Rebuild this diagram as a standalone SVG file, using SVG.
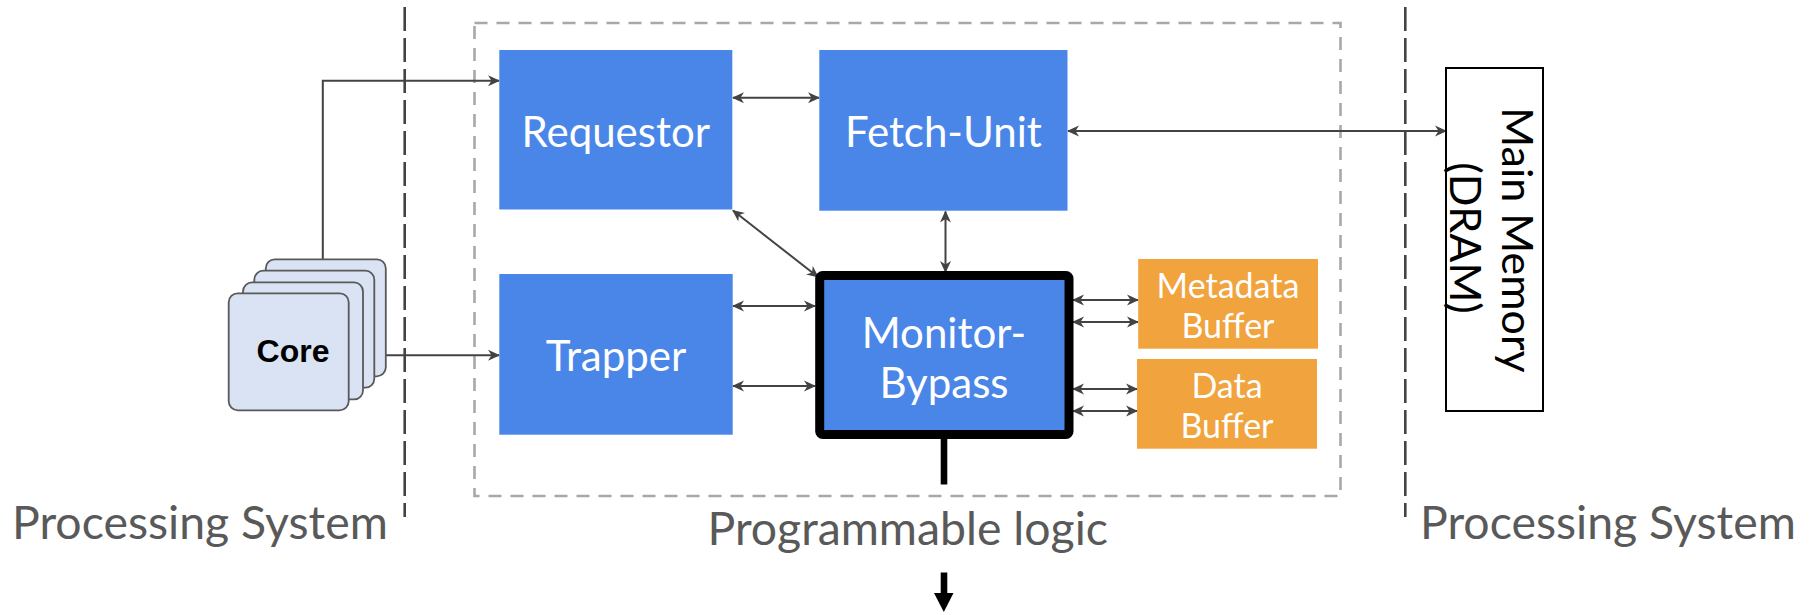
<svg xmlns="http://www.w3.org/2000/svg" width="1816" height="615" viewBox="0 0 1816 615">
  <defs>
    <style>
      .blk { fill: #4a86e8; }
      .buf { fill: #f1a33e; }
      .card { fill: #dae3f3; stroke: #595959; stroke-width: 1.8; }
      .lbl { font-family: Lato, "Open Sans", sans-serif; fill: #ffffff; text-anchor: middle; }
      .big { font-size: 42px; }
      .small { font-size: 34px; }
      .region { font-family: Lato, "Open Sans", sans-serif; font-size: 46.4px; fill: #595959; }
      .conn { fill: none; stroke: #434343; stroke-width: 2; }
      .two { marker-start: url(#head); marker-end: url(#head); }
      .one { marker-end: url(#head); }
    </style>
    <marker id="head" viewBox="0 0 12 12" refX="11" refY="6" markerWidth="12" markerHeight="12" markerUnits="userSpaceOnUse" orient="auto-start-reverse">
      <path d="M0,0.5 L12,6 L0,11.5 L3.5,6 Z" fill="#434343"/>
    </marker>
  </defs>

  <rect width="1816" height="615" fill="#ffffff"/>

  <!-- boundaries between processing system and programmable logic -->
  <g id="boundaries">
    <line x1="404.7" y1="7" x2="404.7" y2="517" stroke="#434343" stroke-width="2.6" stroke-dasharray="24 7"/>
    <line x1="1405.3" y1="7" x2="1405.3" y2="517" stroke="#434343" stroke-width="2.6" stroke-dasharray="24 7"/>
    <rect x="474.5" y="23" width="866" height="473" fill="none" stroke="#a8a8a8" stroke-width="2.6" stroke-dasharray="13 9"/>
  </g>

  <!-- connectors -->
  <g id="connectors">
    <path class="conn one" d="M322.8,259 V80.7 H499"/>
    <path class="conn one" d="M374.5,355.3 H499"/>
    <path class="conn two" d="M733,97.7 H819"/>
    <path class="conn two" d="M1068,131 H1446"/>
    <path class="conn two" d="M733,210.5 L818,277"/>
    <path class="conn two" d="M945.5,211.5 V272"/>
    <path class="conn two" d="M733,306 H815"/>
    <path class="conn two" d="M733,386 H815"/>
    <path class="conn two" d="M1073,300 H1138"/>
    <path class="conn two" d="M1073,322 H1138"/>
    <path class="conn two" d="M1073,389 H1137"/>
    <path class="conn two" d="M1073,411 H1137"/>
    <line x1="944" y1="437" x2="944" y2="484.5" stroke="#000000" stroke-width="6.6"/>
    <line x1="944" y1="572.5" x2="944" y2="595" stroke="#000000" stroke-width="6.6"/>
    <polygon points="934,593 953.5,593 943.8,612" fill="#000000"/>
  </g>

  <!-- stacked cores -->
  <g id="core">
    <rect class="card" x="265.8" y="259.3" width="120" height="117" rx="9"/>
    <rect class="card" x="254.3" y="270.7" width="120" height="117" rx="9"/>
    <rect class="card" x="243" y="282.4" width="120" height="117" rx="9"/>
    <rect class="card" x="228.7" y="293.3" width="120" height="117" rx="9"/>
    <text x="293" y="362" font-family="'Liberation Sans', Arial, sans-serif" font-size="32" font-weight="bold" fill="#000000" text-anchor="middle">Core</text>
  </g>

  <g id="requestor">
    <rect class="blk" x="499.3" y="50" width="233" height="159.5"/>
    <text class="lbl big" x="615.8" y="146.5">Requestor</text>
  </g>

  <g id="fetch-unit">
    <rect class="blk" x="819.3" y="50" width="248.2" height="160.7"/>
    <text class="lbl big" x="943.4" y="146.5" font-size="41">Fetch-Unit</text>
  </g>

  <g id="trapper">
    <rect class="blk" x="499.3" y="274" width="233.4" height="160.7"/>
    <text class="lbl big" x="616" y="371">Trapper</text>
  </g>

  <g id="monitor-bypass">
    <rect class="blk" x="819.7" y="275.5" width="249.3" height="159" rx="3" stroke="#000000" stroke-width="9"/>
    <text class="lbl big" x="944" y="348">Monitor-</text>
    <text class="lbl big" x="944" y="398">Bypass</text>
  </g>

  <g id="metadata-buffer">
    <rect class="buf" x="1138.2" y="259" width="179.8" height="89.7"/>
    <text class="lbl small" x="1228" y="298">Metadata</text>
    <text class="lbl small" x="1228" y="338">Buffer</text>
  </g>

  <g id="data-buffer">
    <rect class="buf" x="1137" y="359" width="180" height="89.7"/>
    <text class="lbl small" x="1227" y="397.5">Data</text>
    <text class="lbl small" x="1227" y="437.5">Buffer</text>
  </g>

  <g id="main-memory">
    <rect x="1446" y="68" width="97" height="343" fill="#ffffff" stroke="#000000" stroke-width="2"/>
    <text transform="translate(1502,240) rotate(90)" font-family="Lato, 'Open Sans', sans-serif" font-size="43" fill="#000000" text-anchor="middle">Main Memory</text>
    <text transform="translate(1450,238) rotate(90)" font-family="Lato, 'Open Sans', sans-serif" font-size="43" fill="#000000" text-anchor="middle">(DRAM)</text>
  </g>

  <!-- region captions -->
  <g id="captions">
    <text class="region" x="12" y="539">Processing System</text>
    <text class="region" x="907.7" y="545" text-anchor="middle">Programmable logic</text>
    <text class="region" x="1420" y="539">Processing System</text>
  </g>
</svg>
